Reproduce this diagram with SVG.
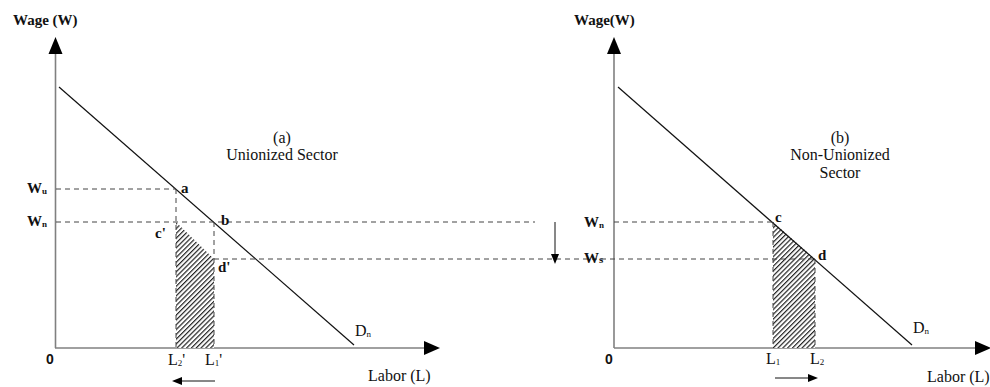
<svg xmlns="http://www.w3.org/2000/svg" width="990" height="387" viewBox="0 0 990 387">
<style>
text{font-family:"Liberation Serif","Times New Roman",serif;fill:#111}
.b{font-weight:bold;font-size:15px}
.r{font-size:16px}
.sub{font-size:9px;font-weight:bold}
.axis{stroke:#808080;stroke-width:1.6;fill:none}
.dem{stroke:#111;stroke-width:1.2;fill:none}
.dash{stroke:#444;stroke-width:1;stroke-dasharray:5,4;fill:none}
.hatch{fill:url(#hp);stroke:none}
.sm{stroke:#111;stroke-width:1;fill:none}
.head{fill:#000}
.zero{font-family:"Liberation Sans",Arial,sans-serif;font-weight:bold;font-size:14px}
</style>
<defs>
<pattern id="hp" patternUnits="userSpaceOnUse" width="3.4" height="3.4" patternTransform="rotate(45)">
<rect width="3.4" height="3.4" fill="#fff"/>
<line x1="0.6" y1="0" x2="0.6" y2="3.4" stroke="#222" stroke-width="1.2"/>
</pattern>
</defs>
<g id="connectors">
<line class="axis" x1="55.5" y1="348" x2="55.5" y2="52"/>
<polygon class="head" points="55.5,37 48.5,54 62.5,54"/>
<line class="axis" x1="55" y1="348" x2="426" y2="348"/>
<polygon class="head" points="440,348 424,341 424,355"/>
<line class="axis" x1="614" y1="348" x2="614" y2="52"/>
<polygon class="head" points="614,37 607,54 621,54"/>
<line class="axis" x1="614" y1="348" x2="977" y2="348"/>
<polygon class="head" points="991,348 975,341 975,355"/>
<polygon class="hatch" points="176,222 214,259 214,348 176,348"/>
<polygon class="hatch" points="773,222 815,259 815,348 773,348"/>
<line class="dem" x1="59" y1="87" x2="354" y2="345"/>
<line class="dem" x1="618" y1="87" x2="912" y2="345"/>
<line class="dash" x1="56" y1="189" x2="176" y2="189"/>
<line class="dash" x1="176" y1="189" x2="176" y2="348"/>
<line class="dash" x1="56" y1="222" x2="535" y2="222"/>
<line class="dash" x1="214" y1="222" x2="214" y2="348"/>
<line class="dash" x1="214" y1="259" x2="815" y2="259"/>
<line class="dash" x1="614" y1="222" x2="773" y2="222"/>
<line class="dash" x1="773" y1="222" x2="773" y2="348"/>
<line class="dash" x1="815" y1="259" x2="815" y2="348"/>
<line class="sm" x1="555" y1="222" x2="555" y2="256"/>
<polygon class="head" points="555,264 551,254 559,254"/>
<line class="sm" x1="215" y1="381" x2="180" y2="381"/>
<polygon class="head" points="172,381 182,377 182,385"/>
<line class="sm" x1="775" y1="378" x2="810" y2="378"/>
<polygon class="head" points="818,378 808,374 808,382"/>
</g>
<g id="panel-a-labels">
<text class="b" x="13" y="25">Wage (W)</text>
<text class="b" x="27" y="193">W<tspan class="sub" dy="1">u</tspan></text>
<text class="b" x="27" y="226">W<tspan class="sub" dy="1">n</tspan></text>
<text class="b" x="181" y="193">a</text>
<text class="b" x="221" y="225">b</text>
<text class="b" x="155" y="238">c'</text>
<text class="b" x="218" y="272">d'</text>
<text class="r" x="282" y="143" text-anchor="middle">(a)</text>
<text class="r" x="282" y="160" text-anchor="middle">Unionized Sector</text>
<text class="r" x="355" y="336">D<tspan style="font-size:9px" dy="1">n</tspan></text>
<text class="r" x="368" y="381">Labor (L)</text>
<text class="zero" x="46" y="364">0</text>
<text class="r" x="168" y="365">L<tspan style="font-size:9px" dy="1">2</tspan><tspan dy="-1">'</tspan></text>
<text class="r" x="205" y="365">L<tspan style="font-size:9px" dy="1">1</tspan><tspan dy="-1">'</tspan></text>
</g>
<g id="panel-b-labels">
<text class="b" x="574" y="25">Wage(W)</text>
<text class="b" x="584" y="227">W<tspan class="sub" dy="1">n</tspan></text>
<text class="b" x="584" y="263">W<tspan style="font-size:11px;font-weight:bold">s</tspan></text>
<text class="b" x="775" y="222">c</text>
<text class="b" x="818" y="260">d</text>
<text class="r" x="840" y="143" text-anchor="middle">(b)</text>
<text class="r" x="840" y="160" text-anchor="middle">Non-Unionized</text>
<text class="r" x="840" y="178" text-anchor="middle">Sector</text>
<text class="r" x="913" y="333">D<tspan style="font-size:9px" dy="1">n</tspan></text>
<text class="r" x="927" y="382">Labor (L)</text>
<text class="zero" x="605" y="364">0</text>
<text class="r" x="766" y="364">L<tspan style="font-size:9px" dy="1">1</tspan></text>
<text class="r" x="810" y="364">L<tspan style="font-size:9px" dy="1">2</tspan></text>
</g>
</svg>
